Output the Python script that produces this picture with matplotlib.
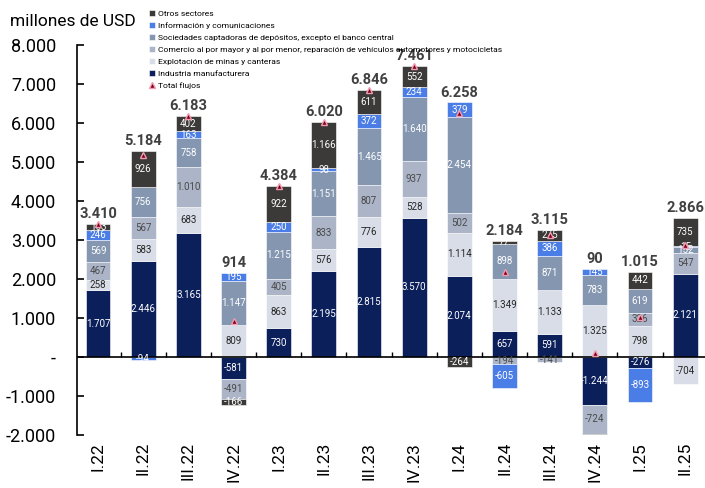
import matplotlib
matplotlib.use("Agg")
import matplotlib.pyplot as plt
import numpy as np

plt.rcParams['font.family'] = ['Roboto', 'DejaVu Sans']

# Datos (millones de USD)
trimestres = ["I.22", "II.22", "III.22", "IV.22", "I.23", "II.23", "III.23", "IV.23",
              "I.24", "II.24", "III.24", "IV.24", "I.25", "II.25"]
industria = [1707, 2446, 3165, -581, 730, 2195, 2815, 3570, 2074, 657, 591, -1244, -276, 2121]
minas = [258, 583, 683, 809, 863, 576, 776, 528, 1114, 1349, 1133, 1325, 798, -704]
comercio = [467, 567, 1010, -491, 405, 833, 807, 937, 502, -194, -141, -724, 326, 547]
sociedades = [569, 756, 758, 1147, 1215, 1151, 1465, 1640, 2454, 898, 871, 783, 619, 152]
informacion = [246, -94, 163, 195, 250, 98, 372, 234, 379, -605, 386, 145, -893, 15]
otros = [163, 926, 402, -166, 922, 1166, 611, 552, -264, 77, 275, -195, 442, 735]
total = [3410, 5184, 6183, 914, 4384, 6020, 6846, 7461, 6258, 2184, 3115, 90, 1015, 2866]

series = [
    ("Industria manufacturera", industria, "#0b1f5a", "white"),
    ("Explotación de minas y canteras", minas, "#d8dde7", "#262626"),
    ("Comercio al por mayor y al por menor, reparación de vehículos automotores y motocicletas",
     comercio, "#abb5c7", "#4a4a4a"),
    ("Sociedades captadoras de depósitos, excepto el banco central", sociedades, "#8496b0", "white"),
    ("Información y comunicaciones", informacion, "#4a7de6", "white"),
    ("Otros sectores", otros, "#3b3a38", "white"),
]

YMIN, YMAX = -2000, 8000


def fmt(v):
    if v == 0:
        return "-"
    return f"{v:,.0f}".replace(",", ".")


fig = plt.figure(figsize=(7.05, 4.88), dpi=100)
ax = fig.add_axes([0.109, 0.109, 0.893, 0.799])

x = np.arange(len(trimestres))
ancho = 0.55
pos_base = np.zeros(len(x))
neg_base = np.zeros(len(x))
handles = {}

for nombre, vals, color, tcolor in series:
    vals = np.array(vals, dtype=float)
    base = np.where(vals >= 0, pos_base, neg_base)
    b = ax.bar(x, vals, ancho, bottom=base, color=color, edgecolor="white", linewidth=0.4, zorder=2)
    handles[nombre] = b
    for xi, v, bo in zip(x, vals, base):
        centro = bo + v / 2
        if YMIN < centro < YMAX:
            ax.text(xi, centro, fmt(v), ha="center", va="center", fontsize=7,
                    color=tcolor, zorder=4)
    pos_base = pos_base + np.where(vals >= 0, vals, 0)
    neg_base = neg_base + np.where(vals < 0, vals, 0)

# Total flujos
tri, = ax.plot(x, total, linestyle="none", marker="^", markersize=5,
               markerfacecolor="#7a0019", markeredgecolor="#f29bb0", mew=1, zorder=5)
for xi, top, t in zip(x, pos_base, total):
    ax.annotate(fmt(t), (xi, top), xytext=(0, 2), textcoords="offset points",
                ha="center", va="bottom", fontsize=10.5, fontweight="bold", color="#404040")

ax.set_xlim(-0.47, len(x) - 0.53)
ax.set_ylim(YMIN, YMAX)
ax.set_yticks(np.arange(YMIN, YMAX + 1, 1000))
ax.set_yticklabels([fmt(v) for v in np.arange(YMIN, YMAX + 1, 1000)], fontsize=13)
ax.tick_params(axis="y", direction="in", length=5, pad=15, width=1.2)

ax.set_xticks(x)
ax.set_xticklabels(trimestres, rotation=90, fontsize=12.5)
ax.tick_params(axis="x", length=0, pad=5)

for s in ["top", "right", "bottom"]:
    ax.spines[s].set_visible(False)
ax.spines["left"].set_linewidth(1.2)
ax.axhline(0, color="black", linewidth=1.2, zorder=3)
ax.vlines(x[:-1] + 0.5, 0, 120, color="black", linewidth=1, zorder=3)

fig.text(0.014, 0.955, "millones de USD", fontsize=12.5, va="center", ha="left")

orden = ["Otros sectores", "Información y comunicaciones",
         "Sociedades captadoras de depósitos, excepto el banco central",
         "Comercio al por mayor y al por menor, reparación de vehículos automotores y motocicletas",
         "Explotación de minas y canteras", "Industria manufacturera"]
fig.legend([handles[n] for n in orden] + [tri], orden + ["Total flujos"],
           loc="upper left", bbox_to_anchor=(0.212, 0.98), frameon=False, fontsize=6.1,
           handlelength=0.7, handleheight=0.7, handletextpad=0.3, labelspacing=0.6,
           borderaxespad=0, borderpad=0)

fig.savefig("out.png", dpi=100)
